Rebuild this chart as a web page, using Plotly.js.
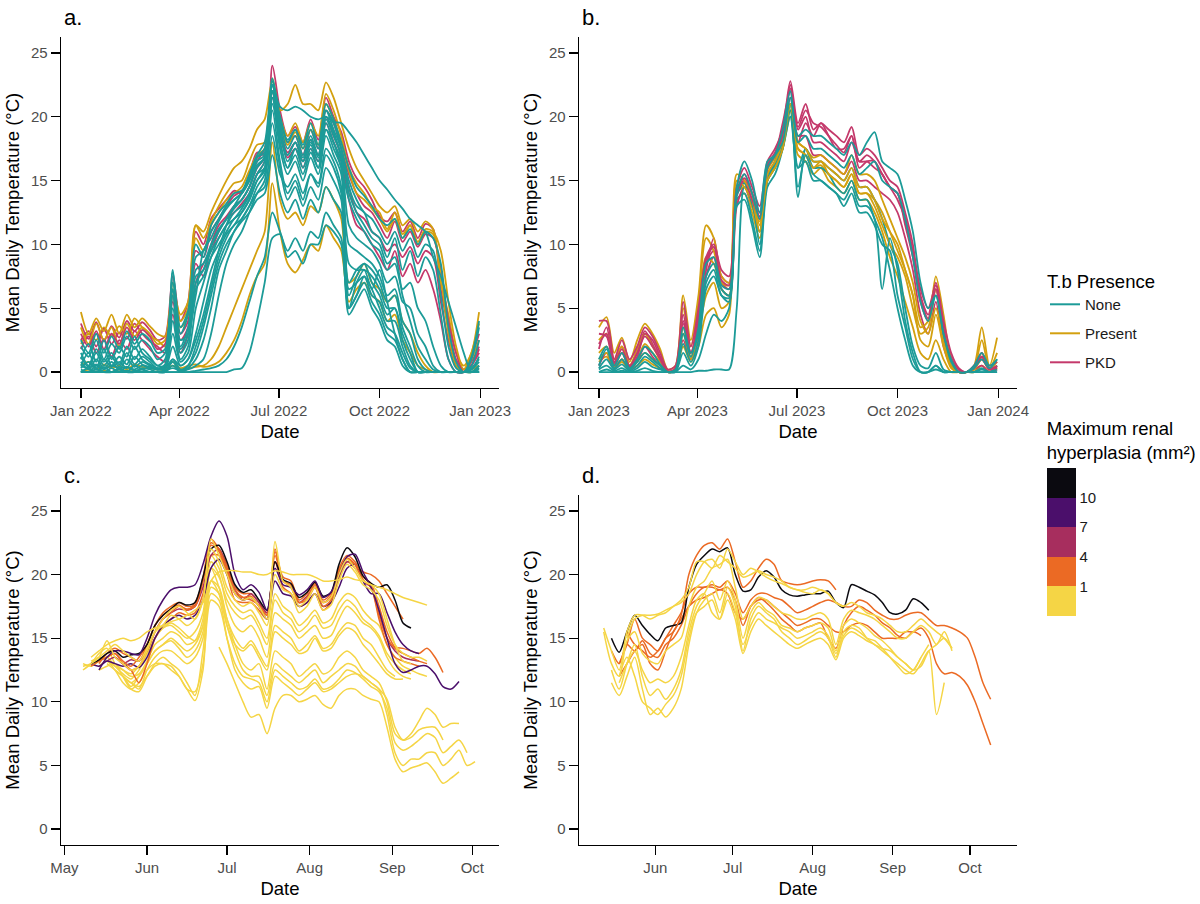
<!DOCTYPE html>
<html><head><meta charset="utf-8">
<script src="https://cdn.plot.ly/plotly-3.0.1.min.js"></script>
<style>html,body{margin:0;padding:0;background:#fff}#chart{width:1200px;height:904px}</style>
</head><body><div id="chart"></div>
<script>
// ---------- Panel a: 2022, weekly mean daily temperature from 2022-01-01 ----------
const aStart = '2022-01-01';
const a_PKD_1 = [3.8,2.6,3.9,2.4,3.6,2.7,4.0,3.2,3.9,3.3,2.5,2.8,7.5, 4.0,5.5,11.0,10.0,12.0,12.8,13.5,14.2,14.0,15.5,17.2,17.0,24.0, 20.5,18.5,19.2,18.0,19.8,18.2,21.5,20.0,18.8,16.5,15.2,14.5,13.5, 12.2,11.8,12.5,11.0,11.8,10.5,11.6,11.2,6.5,3.5,1.0,0.2,1.2,3.0];
const a_PKD_2 = [2.5,3.2,2.0,3.4,2.2,3.1,2.6,3.8,3.0,2.4,2.0,1.5,6.0, 3.0,4.0,9.5,9.0,11.0,12.0,13.0,13.8,14.2,15.0,16.5,17.5,22.5, 19.8,18.0,18.5,17.0,19.0,17.5,20.5,19.5,17.5,15.5,14.0,13.0,12.5, 11.5,10.5,11.8,10.2,11.0,9.8,10.8,10.5,8.0,4.0,1.5,0.0,0.8,2.0];
const a_PKD_3 = [1.8,2.8,1.5,2.6,1.2,2.5,1.8,3.2,2.5,1.8,1.2,0.8,4.5, 1.5,3.0,8.5,7.5,10.0,11.5,12.2,13.0,13.5,14.5,16.0,16.8,21.5, 19.0,17.2,18.0,16.5,18.2,17.0,20.0,18.5,17.0,14.5,12.5,12.0,11.0, 10.5,9.5,10.0,9.0,9.8,8.5,9.5,9.0,5.5,2.5,0.5,0.0,0.5,1.5];
const a_PKD_4 = [3.0,2.0,3.2,1.8,3.0,2.2,3.5,2.5,3.3,2.8,1.8,2.2,5.5, 2.5,3.5,7.0,8.5,9.5,11.0,12.0,12.5,13.2,14.0,15.5,16.5,22.0, 18.5,16.8,17.5,16.0,17.5,16.5,19.5,18.0,16.5,13.5,11.5,11.0,10.0, 9.0,8.0,9.5,7.5,8.5,7.0,8.0,6.5,4.0,1.0,0.0,0.0,0.5,1.8];
const a_Present_1 = [2.2,3.0,2.5,3.5,2.8,3.6,3.0,4.2,3.5,2.8,2.5,2.0,6.5, 4.5,5.5,11.5,11.0,12.5,13.8,15.0,16.0,16.5,17.5,19.0,19.8,22.8, 20.5,21.0,22.5,21.0,21.0,20.5,22.7,21.5,19.5,17.5,16.0,15.0,14.0, 13.0,12.5,13.0,11.5,12.0,11.0,11.8,11.2,7.0,4.5,1.5,0.5,1.5,4.7];
const a_Present_2 = [0.5,0.8,0.2,0.6,0.3,0.5,0.2,0.6,0.4,0.3,0.2,0.4,0.8, 0.3,0.5,0.6,0.4,0.5,0.8,1.5,2.5,4.0,6.0,7.5,8.5,14.8, 11.0,8.5,7.8,8.8,10.0,9.5,11.5,10.5,9.5,5.5,6.5,7.0,6.0, 5.5,4.0,4.5,2.5,1.5,0.5,0.2,0.0,0.0,0.0,0.0,0.0,0.2,0.5];
const a_Present_3 = [3.5,2.2,3.8,2.5,3.5,2.0,3.8,2.8,3.5,3.0,2.2,2.5,6.0, 3.5,4.5,10.5,9.5,11.5,12.5,13.5,14.0,14.5,15.8,17.0,17.5,22.0, 19.5,17.8,18.8,17.5,19.0,17.8,21.0,19.8,18.0,15.8,14.0,13.5,12.8, 12.0,11.0,12.0,10.5,11.5,10.0,11.0,10.8,7.5,3.0,0.5,0.0,1.0,2.5];
const a_Present_4 = [0.0,0.2,0.0,0.1,0.0,0.2,0.0,0.1,0.0,0.0,0.0,0.2,0.5, 0.2,0.3,0.4,0.5,1.0,2.0,3.5,5.0,6.5,8.0,9.5,11.0,18.0, 13.5,12.0,12.5,11.5,13.0,12.5,14.5,13.5,12.0,7.0,7.5,8.5,7.0, 6.5,5.5,6.0,4.0,3.0,1.5,0.5,0.0,0.0,0.0,0.0,0.0,0.0,0.3];
const a_Present_5 = [4.7,3.0,4.2,3.2,4.5,3.0,4.5,3.5,4.2,3.6,3.0,2.8,7.0, 4.0,5.0,11.5,10.5,11.8,13.0,14.0,14.8,15.0,16.5,17.8,18.0,23.0, 20.0,18.5,19.5,18.0,19.5,18.5,21.8,20.5,18.5,16.0,14.8,14.0,13.0, 12.5,11.2,12.5,10.8,11.5,10.2,11.2,11.0,9.5,5.5,2.0,0.2,1.5,3.8];
const a_None_1 = [0.5,0.3,0.6,0.2,0.5,0.3,0.4,0.2,0.5,0.3,0.2,0.3,1.0, 0.5,1.0,2.5,4.5,7.0,9.5,11.5,13.0,14.0,15.5,17.0,18.0,22.5, 20.8,20.5,20.8,20.5,20.0,19.8,20.0,19.6,19.5,18.8,18.0,17.0,16.0, 15.0,14.3,13.5,12.8,12.0,11.5,11.0,9.0,7.5,5.5,3.5,1.5,0.0,0.5];
const a_None_2 = [1.5,0.5,1.8,0.8,1.5,0.6,2.0,1.0,1.8,1.2,0.5,1.0,8.0, 2.0,3.5,7.5,8.0,9.5,10.5,11.5,12.5,13.0,14.0,15.5,16.5,22.8, 19.0,16.5,17.5,16.0,17.5,16.0,19.0,18.0,16.0,13.5,12.0,11.0,10.0, 9.5,8.0,8.5,6.5,7.0,5.0,4.0,2.0,0.5,0.0,0.0,0.0,0.3,1.0];
const a_None_3 = [0.2,0.0,0.5,0.0,0.3,0.0,0.4,0.1,0.3,0.2,0.0,0.2,2.0, 0.5,1.0,3.0,5.5,8.0,9.5,10.8,11.5,12.5,13.5,15.0,15.8,21.5, 17.5,15.5,16.5,15.0,16.8,15.5,18.5,17.0,15.5,6.0,7.5,8.5,7.0, 6.0,4.5,5.0,2.5,1.0,0.0,0.0,0.0,0.0,0.0,0.0,0.0,0.0,0.2];
const a_None_4 = [0.0,0.0,0.0,0.0,0.0,0.0,0.1,0.0,0.0,0.0,0.0,0.1,0.3, 0.1,0.2,0.5,1.0,3.0,6.0,8.5,10.0,11.0,12.5,14.0,15.0,20.5, 16.5,14.0,15.0,13.5,15.5,14.5,17.0,16.0,14.0,5.0,6.0,7.5,6.5, 5.0,3.5,3.0,1.5,0.3,0.0,0.0,0.0,0.0,0.0,0.0,0.0,0.0,0.0];
const a_None_5 = [0.0,0.0,0.0,0.0,0.0,0.0,0.0,0.0,0.0,0.0,0.0,0.0,0.0, 0.0,0.0,0.1,0.2,0.3,0.5,1.0,2.0,3.5,5.5,7.5,9.0,12.5, 11.0,9.5,10.5,9.5,11.0,10.5,12.5,11.5,10.5,4.5,5.5,6.5,5.0, 4.0,2.5,2.0,0.5,0.0,0.0,0.0,0.0,0.0,0.0,0.0,0.0,0.0,0.0];
const a_None_6 = [0.0,0.0,0.0,0.0,0.0,0.0,0.0,0.0,0.0,0.0,0.0,0.0,0.0, 0.0,0.0,0.0,0.0,0.0,0.0,0.0,0.2,0.3,1.5,4.0,7.0,10.5, 10.8,9.0,9.5,8.5,10.0,10.0,11.5,11.0,10.0,5.0,6.0,7.0,5.5, 4.5,3.0,2.5,1.0,0.0,0.0,0.0,0.0,0.0,0.0,0.0,0.0,0.0,0.0];
const a_None_7 = [1.0,2.2,0.8,2.5,1.0,2.0,1.2,2.8,1.5,1.0,0.5,0.5,6.5, 2.5,3.0,6.0,9.5,10.5,11.8,12.8,13.5,14.0,15.0,16.8,17.5,22.0, 20.0,18.0,19.0,17.5,19.0,17.5,20.5,19.5,17.5,14.5,13.0,12.5,11.0, 10.5,9.0,10.5,8.0,9.5,7.5,9.0,8.0,4.5,1.0,0.0,0.0,0.5,2.5];
const a_None_8 = [0.3,0.8,0.2,1.0,0.4,0.8,0.3,1.2,0.6,0.4,0.2,0.3,3.0, 0.8,1.5,5.0,7.0,9.0,10.5,11.5,12.0,12.8,13.8,15.5,16.0,21.0, 18.0,16.0,17.0,15.5,17.2,16.0,19.0,17.5,16.0,10.0,9.5,9.0,8.5, 7.5,6.0,6.5,4.0,3.0,1.0,0.2,0.0,0.0,0.0,0.0,0.0,0.2,0.8];
const a_None_9 = [0.0,0.0,0.0,0.0,0.0,0.0,0.0,0.0,0.0,0.0,0.0,0.0,0.5, 0.0,0.3,1.0,2.5,5.0,8.0,9.5,11.0,12.0,13.0,14.5,15.5,19.5, 16.0,13.5,14.5,13.0,14.5,13.5,16.0,15.0,13.5,7.0,8.0,8.5,8.0, 7.0,5.5,6.0,3.5,2.0,0.5,0.0,0.0,0.0,0.0,0.0,0.0,0.0,0.0];
const a_None_10 = [0.8,0.2,1.0,0.3,0.8,0.2,1.0,0.4,0.8,0.5,0.2,0.4,4.0, 1.0,2.0,6.5,7.5,9.0,10.0,11.0,12.0,12.5,13.5,15.0,16.0,22.0, 18.5,17.0,18.0,16.5,18.0,17.0,20.0,18.8,16.8,11.5,10.5,10.0,9.5, 8.5,7.0,7.5,5.5,5.0,3.0,2.0,0.5,0.0,0.0,0.0,0.0,0.0,0.5];
const a_None_11 = [2.0,1.2,2.5,1.0,2.2,1.5,2.8,1.8,2.5,2.0,1.0,1.5,7.0, 3.0,4.5,9.0,9.5,11.0,12.0,13.0,13.5,14.0,15.0,16.5,17.0,22.5, 19.5,17.5,18.5,17.0,18.5,17.0,20.5,19.0,17.5,15.0,13.5,12.5,12.0, 11.0,10.0,11.0,9.5,10.5,9.0,10.0,9.5,6.0,2.0,0.3,0.0,1.0,3.5];
const a_None_12 = [0.0,0.3,0.0,0.4,0.0,0.2,0.0,0.5,0.2,0.0,0.0,0.0,1.0, 0.2,0.5,2.0,4.0,6.5,9.0,10.5,11.5,12.0,13.0,14.0,14.5,18.5, 15.5,14.5,15.5,14.0,15.5,14.8,17.5,16.5,14.5,8.5,8.0,8.0,7.5, 6.5,5.0,5.0,3.0,1.5,0.0,0.0,0.0,0.0,0.0,0.0,0.0,0.0,0.0];
const a_None_13 = [0.5,1.5,0.3,1.8,0.5,1.2,0.6,2.0,1.0,0.6,0.3,0.4,5.0, 1.5,2.5,7.0,8.0,9.8,11.0,12.0,12.8,13.5,14.5,16.0,16.8,22.0, 18.0,16.0,17.5,16.5,17.8,16.5,19.5,18.0,16.5,5.0,7.0,8.0,6.5, 8.0,5.5,3.0,1.0,0.0,0.0,0.0,0.0,0.0,0.0,0.0,0.0,0.0,0.3];
const a_None_14 = [0.0,0.0,0.2,0.0,0.0,0.3,0.0,0.0,0.2,0.0,0.0,0.0,0.8, 0.0,0.5,1.5,3.5,6.0,8.5,10.0,11.0,11.8,12.5,13.5,14.0,17.0, 14.0,12.5,13.5,12.0,13.5,12.5,14.5,13.5,12.5,6.5,7.0,7.5,6.0, 5.5,4.0,4.0,2.0,0.5,0.0,0.0,0.0,0.0,0.0,0.0,0.0,0.0,0.0];
const a_None_15 = [2.5,1.5,3.0,1.5,2.8,1.8,3.2,2.2,3.0,2.5,1.5,1.8,7.8, 3.5,4.8,10.0,9.0,11.5,12.5,13.2,14.0,14.2,15.2,16.8,17.2,23.0, 20.0,18.2,19.0,17.8,19.5,17.8,21.0,19.8,18.0,16.0,14.5,13.8,13.0, 12.0,11.5,12.0,10.5,11.2,10.0,11.0,10.5,8.5,3.5,0.8,0.0,1.2,4.0];
const a_None_16 = [1.2,0.4,1.5,0.5,1.2,0.4,1.5,0.6,1.2,0.8,0.3,0.6,6.0, 1.8,3.0,8.0,8.5,10.0,11.2,12.0,13.0,13.5,14.5,16.2,16.8,22.5, 19.0,17.0,18.0,16.8,18.2,16.8,19.8,18.5,17.0,14.0,12.5,11.5,10.5, 10.0,8.5,9.0,6.0,4.0,2.0,1.0,0.2,0.0,0.0,0.0,0.0,0.2,1.2];

// ---------- Panel b: 2023, weekly from 2023-01-01 ----------
const bStart = '2023-01-01';
const b_PKD_1 = [4.0,4.0,1.0,2.5,1.0,2.0,3.5,2.8,1.5,0.2,0.5,5.5,2.0, 5.0,9.0,10.0,8.0,7.5,14.5,16.0,14.5,13.0,16.5,17.5,19.0,22.8, 19.5,21.0,19.0,19.5,19.0,18.5,18.0,19.2,17.0,17.5,17.0,16.0,15.0, 14.5,12.5,10.0,6.0,4.5,7.0,4.0,1.5,0.3,0.0,0.5,1.5,0.3,0.5];
const b_PKD_2 = [1.8,3.5,0.8,2.0,0.5,1.5,3.2,2.2,1.0,0.0,0.3,4.0,1.5, 4.0,8.5,9.5,7.0,6.5,14.0,15.5,14.0,12.5,16.0,17.0,18.5,22.5, 19.0,20.0,18.0,18.0,17.5,17.0,16.5,18.0,16.5,16.5,16.0,15.5,14.5, 14.0,11.5,9.0,5.5,4.0,6.5,3.0,1.0,0.0,0.0,0.3,1.0,0.2,0.3];
const b_PKD_3 = [0.5,1.5,0.3,1.0,0.2,0.8,2.0,1.2,0.5,0.0,0.1,2.5,1.0, 3.0,7.5,9.0,6.5,6.0,13.0,14.5,13.0,12.0,15.5,16.5,18.0,21.5, 18.5,18.5,17.0,17.0,16.5,16.0,15.5,16.5,15.0,15.0,14.5,14.0,13.5, 12.5,10.5,8.0,4.5,3.0,5.5,2.0,0.5,0.0,0.0,0.2,0.5,0.0,0.2];
const b_PKD_4 = [3.0,2.8,0.5,1.5,0.4,1.2,3.0,2.5,1.2,0.1,0.2,4.5,1.5, 3.5,8.0,10.5,7.5,7.0,14.0,15.0,13.5,12.0,16.0,17.0,19.5,22.0, 18.0,19.5,18.5,19.5,18.5,17.5,17.5,18.5,16.0,16.5,16.5,15.5,14.5, 13.5,12.0,9.5,6.5,5.0,6.8,3.5,1.2,0.2,0.0,0.5,1.2,0.5,0.8];
const b_PKD_5 = [2.2,3.0,0.7,1.8,0.5,1.5,2.8,2.0,1.0,0.0,0.3,3.8,1.5, 4.5,8.8,9.8,7.2,6.8,14.2,15.2,14.0,12.2,16.2,17.2,18.8,22.2, 19.2,20.5,19.5,19.2,18.5,17.8,17.2,18.5,16.5,17.0,16.5,15.5,14.5, 14.0,12.0,9.2,5.8,4.2,6.5,3.2,1.0,0.0,0.0,0.3,1.2,0.2,0.4];
const b_Present_1 = [3.5,4.3,1.5,2.7,0.8,2.5,3.8,3.0,1.8,0.2,0.5,6.0,2.5, 6.0,11.5,10.5,7.5,7.0,15.5,15.0,14.0,11.5,15.0,16.0,17.5,21.0, 18.0,17.5,16.5,16.5,16.0,15.5,15.0,16.0,14.5,14.5,13.5,12.0,11.0, 10.0,8.0,6.0,3.5,4.0,7.5,4.5,1.0,0.0,0.0,0.5,3.5,0.5,2.7];
const b_Present_2 = [2.5,3.0,1.0,2.0,0.5,1.8,3.0,2.0,1.0,0.0,0.3,5.0,2.0, 5.5,10.5,9.5,7.0,6.8,15.0,14.5,13.5,11.0,15.5,16.5,18.0,20.5, 17.5,17.0,16.0,16.5,15.5,15.0,14.5,15.5,14.0,14.0,13.0,11.5,10.0, 9.0,7.5,5.0,3.0,3.5,6.5,3.5,0.5,0.0,0.0,0.3,2.5,0.3,1.5];
const b_Present_3 = [0.8,1.2,0.3,0.8,0.2,0.5,1.0,0.6,0.3,0.0,0.1,2.0,0.8, 2.0,4.5,5.0,3.5,4.5,13.5,14.0,12.5,10.5,15.0,16.0,17.5,20.0, 17.0,16.5,15.5,16.0,15.0,14.5,14.0,15.0,13.5,13.5,12.5,11.0,9.0, 7.5,5.5,3.5,1.5,1.0,2.5,1.0,0.0,0.0,0.0,0.0,0.5,0.0,0.3];
const b_Present_4 = [1.5,2.0,0.6,1.5,0.4,1.0,2.2,1.5,0.8,0.0,0.2,3.5,1.2, 4.0,9.0,8.5,6.5,6.0,14.5,14.8,13.0,11.8,15.8,16.8,18.2,21.0, 18.0,17.5,16.8,17.0,16.5,16.0,15.5,17.0,15.5,15.5,15.0,13.5,12.0, 10.5,9.0,7.0,4.0,3.0,5.0,2.5,0.5,0.0,0.0,0.2,1.5,0.2,0.8];
const b_Present_5 = [1.0,1.5,0.4,1.0,0.3,0.8,1.5,1.0,0.5,0.0,0.1,3.0,1.0, 3.0,6.0,7.0,5.0,5.5,14.0,14.5,13.0,11.0,15.2,16.2,17.8,20.5, 17.5,17.0,16.0,16.2,15.5,15.0,14.5,15.5,14.0,14.0,13.5,12.5,11.0, 9.5,8.0,6.0,2.5,2.0,4.5,2.0,0.3,0.0,0.0,0.2,1.0,0.2,0.5];
const b_None_1 = [0.0,0.0,0.0,0.0,0.0,0.0,0.0,0.0,0.0,0.0,0.0,0.0,0.0, 0.1,0.1,0.2,0.2,0.2,5.0,14.5,13.5,10.0,15.0,16.5,18.0,21.0, 13.7,17.5,16.0,16.0,15.5,14.5,14.0,15.0,13.5,13.5,12.0,10.5,8.0, 5.0,2.5,0.5,0.0,0.0,0.5,0.0,0.0,0.0,0.0,0.0,0.2,0.0,0.0];
const b_None_2 = [0.5,1.8,0.3,1.0,0.2,0.8,1.5,1.0,0.5,0.0,0.1,3.0,1.2, 3.5,8.5,9.0,6.8,6.5,14.5,16.5,15.0,12.5,16.5,17.0,18.0,21.5, 18.5,19.0,18.5,18.5,18.0,17.5,17.0,18.0,17.0,18.0,18.8,16.5,16.0, 15.5,13.5,11.0,7.0,5.0,6.0,3.0,0.8,0.0,0.0,0.3,1.0,0.3,1.0];
const b_None_3 = [0.2,0.5,0.1,0.3,0.0,0.3,0.8,0.4,0.2,0.0,0.0,1.5,0.5, 2.0,6.5,7.5,6.0,5.5,13.0,13.5,11.5,9.0,14.5,15.5,17.5,20.5, 14.5,17.0,15.5,15.0,14.5,14.0,13.5,14.5,13.0,13.0,12.0,6.5,10.5, 8.0,4.0,1.5,0.0,0.0,0.5,0.0,0.0,0.0,0.0,0.0,0.0,0.0,0.2];
const b_None_4 = [0.0,0.2,0.0,0.1,0.0,0.1,0.3,0.1,0.0,0.0,0.0,0.5,0.2, 1.0,3.0,4.5,4.0,5.0,13.5,14.0,12.0,9.5,15.0,16.0,17.5,20.0, 16.0,16.5,15.0,15.0,14.5,14.0,13.0,14.0,12.5,12.5,11.5,10.0,9.5, 6.0,3.5,1.0,0.0,0.0,0.2,0.0,0.0,0.0,0.0,0.0,0.0,0.0,0.0];
const b_None_5 = [1.0,2.0,0.5,1.5,0.3,1.0,2.0,1.5,0.6,0.0,0.2,3.5,1.5, 3.0,7.5,8.5,6.5,6.0,14.0,15.5,14.0,12.0,16.0,17.0,19.0,22.0, 18.0,18.5,17.5,17.5,17.0,16.5,16.0,17.0,15.5,16.0,16.5,15.0,14.5, 14.0,12.0,9.0,5.5,4.0,6.0,3.0,1.0,0.0,0.0,0.5,1.5,0.5,1.0];
const b_None_6 = [0.3,1.0,0.2,0.6,0.1,0.5,1.2,0.8,0.3,0.0,0.1,2.2,0.8, 2.5,7.0,8.0,6.0,5.8,13.8,14.8,13.2,11.0,15.5,16.2,17.8,21.0, 16.0,17.5,16.5,16.5,16.0,15.5,15.0,16.0,14.5,14.5,13.5,12.0,10.0, 8.5,5.0,2.0,0.5,0.3,1.5,0.2,0.0,0.0,0.0,0.0,0.3,0.0,0.5];

// ---------- Panel c: 2022, every 3 days; start date, max renal hyperplasia (mm²), values ----------
const c_K1_start = '2022-05-11', c_K1_hyp = 11;
const c_K1 = [13.0,13.3,13.8,14.0,13.5,13.7,13.8,14.5,16.0,16.8,17.3,17.8,17.6,17.8,19.8,22.0,22.3,21.0,19.2,18.6,18.8,18.0,17.2,21.0,19.6,19.3,18.2,18.6,19.4,18.3,18.6,20.8,22.1,21.4,19.9,19.3,19.0,19.2,18.0,16.2,15.8];
const c_P1_start = '2022-05-14', c_P1_hyp = 8.5;
const c_P1 = [12.5,13.5,14.0,14.0,13.8,13.7,15.0,16.8,18.0,18.8,19.0,19.0,19.2,20.8,23.0,24.2,23.0,20.0,18.8,19.2,18.6,17.2,20.5,19.2,19.0,18.4,18.8,19.5,18.2,18.6,20.0,21.4,21.6,20.2,19.0,17.2,15.0,13.0,12.3,12.5,12.8,12.8,12.2,11.2,11.0,11.6];
const c_P2_start = '2022-05-11', c_P2_hyp = 7.5;
const c_P2 = [13.0,12.8,13.2,13.0,12.8,13.0,12.7,13.5,15.0,16.0,16.5,16.8,16.5,16.8,18.0,20.5,21.2,20.0,18.5,18.0,18.2,17.5,16.5,19.5,18.5,18.3,17.5,17.8,18.5,17.5,17.8,19.0,20.5,20.8,19.5,18.5,18.5,17.0,15.5,14.5,14.0,13.8];
const c_M1_start = '2022-05-17', c_M1_hyp = 5;
const c_M1 = [13.2,13.5,13.0,13.3,13.2,14.0,15.5,16.5,17.0,17.3,17.2,17.5,19.0,21.5,22.0,20.5,18.8,18.0,18.5,17.8,17.0,21.0,19.5,19.0,17.8,18.3,19.0,17.8,18.2,19.8,21.0,20.8,19.5,19.0,17.0,15.0,14.0,13.5,13.3,13.2];
const c_O1_start = '2022-05-14', c_O1_hyp = 2.5;
const c_O1 = [13.0,13.8,14.2,13.8,13.5,13.2,14.5,16.0,17.0,17.5,17.8,17.5,17.6,19.8,22.5,22.0,20.8,19.0,18.5,18.5,17.8,17.0,21.8,19.8,19.5,18.0,18.5,19.3,18.0,18.5,20.5,21.5,21.0,19.8,19.3,17.5,15.5,14.3,14.2,14.0,13.8,14.2,13.5,12.3];
const c_O2_start = '2022-05-11', c_O2_hyp = 2;
const c_O2 = [12.8,13.2,13.5,13.8,13.0,12.5,12.8,14.0,15.5,16.5,17.0,17.5,17.3,17.5,19.5,22.8,22.0,20.5,18.8,18.2,18.0,17.6,16.8,22.0,19.5,19.0,17.8,18.0,19.0,17.5,18.0,20.3,21.2,20.8,20.2,20.0,19.5,18.5,17.5,16.5];
const c_O3_start = '2022-05-20', c_O3_hyp = 3;
const c_O3 = [13.5,13.0,12.5,11.5,13.0,15.0,16.0,16.5,17.0,16.8,17.0,18.5,21.5,21.5,20.0,18.0,17.8,17.8,17.2,16.5,21.0,19.0,18.5,17.5,17.8,18.5,17.2,17.8,19.8,21.0,20.5,19.5,19.0,16.5,14.5,13.5,13.2,13.0,12.8];
const c_O4_start = '2022-05-17', c_O4_hyp = 1.5;
const c_O4 = [13.5,13.8,13.2,12.8,13.5,14.5,16.0,16.8,17.3,17.6,17.2,17.8,19.5,22.3,21.8,20.2,18.5,18.2,18.3,17.5,16.8,21.5,19.5,19.2,17.8,18.2,19.2,17.8,18.3,20.2,21.3,20.8,19.6,19.0,16.8,15.0,14.2,13.8,13.5,13.2,13.0];
const c_Y1_start = '2022-05-08';
const c_Y1 = [12.8,13.0,13.5,14.8,13.5,13.0,12.5,12.8,14.0,15.5,16.0,16.8,16.5,16.0,16.5,18.0,22.8,21.5,20.0,18.5,18.0,18.2,17.5,16.5,22.6,19.5,19.0,17.5,18.0,19.0,17.8,18.2,20.0,21.2,20.5,19.5,19.2,18.5,16.5,14.5,13.2,13.0];
const c_Y2_start = '2022-05-11';
const c_Y2 = [13.5,14.0,14.5,14.8,15.0,14.8,15.0,15.5,15.8,16.0,16.3,16.5,16.8,17.2,17.8,19.5,20.2,20.3,20.3,20.2,20.2,20.0,20.0,20.3,20.2,20.0,20.0,20.0,19.8,19.5,19.5,19.6,19.8,19.6,19.5,19.2,19.0,18.8,18.5,18.2,18.0,17.8,17.6];
const c_Y3_start = '2022-05-08';
const c_Y3 = [12.5,13.0,13.8,14.2,13.0,12.5,12.0,12.2,13.2,14.5,15.0,15.5,15.2,14.5,14.8,16.5,21.0,20.0,17.5,16.0,15.5,16.0,15.0,13.5,17.0,16.5,16.0,15.0,15.5,16.0,15.0,15.2,16.5,17.5,17.0,16.2,15.8,15.0,13.5,12.5,12.0,11.8];
const c_Y4_start = '2022-05-14';
const c_Y4 = [12.8,13.2,12.5,11.5,11.0,11.5,12.5,13.0,13.0,12.8,12.0,11.0,10.1,12.5,19.5,18.5,16.0,14.5,14.0,14.5,13.5,12.5,15.5,15.0,14.5,13.8,14.0,15.0,14.0,14.2,15.2,15.8,15.5,14.5,13.8,13.0,12.2,11.8,11.8];
const c_Y5_start = '2022-05-17';
const c_Y5 = [13.0,12.5,12.0,11.2,12.0,13.0,14.0,14.5,14.8,14.2,13.5,14.0,15.5,19.5,19.0,16.5,14.5,13.0,12.5,13.0,11.0,14.0,13.5,13.0,12.0,12.5,13.0,12.2,12.5,13.5,14.0,13.5,12.5,12.0,11.5,10.0,7.5,7.0,7.5,8.5,9.5,9.0,8.0,8.3,8.3];
const c_Y6_start = '2022-05-20';
const c_Y6 = [12.5,12.0,11.5,11.0,12.5,13.5,14.0,14.0,13.5,13.0,13.5,15.0,19.0,18.5,16.0,14.0,12.5,12.0,12.0,10.5,13.0,12.5,12.0,11.5,12.0,12.5,11.5,12.0,12.5,13.0,12.8,12.0,11.5,11.0,9.0,6.0,5.0,5.5,5.5,6.0,6.0,5.0,5.5,6.2,5.0,5.3];
const c_Y7_start = '2022-06-28';
const c_Y7 = [14.3,13.0,11.5,10.0,8.8,9.0,7.5,9.5,10.5,10.5,10.0,10.2,10.5,9.8,9.5,10.5,11.0,11.0,10.5,10.2,10.0,8.0,5.5,4.5,4.8,5.0,5.2,4.5,3.6,4.0,4.5];
const c_Y9_start = '2022-05-23';
const c_Y9 = [12.0,11.0,10.8,12.0,13.0,13.5,13.0,12.5,11.5,10.5,14.0,18.5,18.0,15.0,12.5,11.5,11.0,11.2,9.5,12.0,11.5,11.0,10.5,11.0,11.5,10.8,11.0,11.5,12.0,12.2,12.0,11.5,11.0,10.2,8.0,7.0,7.2,7.8,8.0,8.0,7.0];
const c_Y10_start = '2022-05-26';
const c_Y10 = [11.5,11.2,12.0,12.8,13.0,12.5,12.0,11.0,10.8,13.0,18.0,17.5,15.0,13.0,12.0,11.8,11.5,10.0,12.5,12.0,11.5,11.0,11.2,11.8,11.0,11.2,11.8,12.5,12.3,11.8,11.2,10.8,9.5,6.8,6.2,6.5,7.0,7.5,7.2,6.0,6.5,7.0,6.0];
const c_Y11_start = '2022-05-08';
const c_Y11 = [13.0,12.8,13.2,13.5,12.8,12.2,11.8,12.5,13.8,15.0,15.8,16.0,15.5,15.0,15.5,17.0,21.5,20.5,18.5,17.5,17.0,17.2,16.2,15.0,18.5,17.5,17.0,16.0,16.5,17.2,16.2,16.5,17.8,18.5,18.2,17.2,16.5,16.0,14.5,13.5,12.8,12.5,12.2,12.0];
const c_Y12_start = '2022-05-11';
const c_Y12 = [13.2,13.5,14.0,14.5,14.0,13.5,13.2,14.2,15.5,16.5,17.2,17.5,17.0,16.5,18.0,22.0,21.0,19.0,18.0,17.5,17.8,17.0,16.0,20.0,18.8,18.5,17.0,17.5,18.5,17.2,17.6,19.5,20.8,20.2,19.2,18.8,18.0,16.0,14.5,13.8,13.5,13.5,13.2];
const c_Y13_start = '2022-05-14';
const c_Y13 = [12.5,12.8,13.0,12.0,11.5,12.0,13.0,14.0,14.5,15.0,14.5,14.0,14.5,16.0,20.5,19.0,16.5,15.0,14.2,14.8,13.8,12.8,16.0,15.5,15.0,14.0,14.5,15.2,14.2,14.5,15.5,16.2,16.0,15.0,14.5,13.5,12.5,12.0];
const c_Y14_start = '2022-05-11';
const c_Y14 = [13.0,13.5,13.2,12.8,12.5,12.2,12.8,13.8,15.0,15.8,16.2,15.8,15.2,14.8,16.0,20.5,19.8,18.0,17.0,16.5,16.8,15.8,14.5,18.0,17.0,16.5,15.5,16.0,16.8,15.8,16.0,17.2,18.0,17.5,16.5,16.0,15.2,13.8,13.0,12.5,12.2];
const cYellowHyp = 0.3;

// ---------- Panel d: 2023, every 3 days ----------
const d_K1_start = '2023-05-15', d_K1_hyp = 11;
const d_K1 = [15.0,13.9,15.5,16.8,16.0,15.3,14.8,15.8,16.0,16.2,19.0,20.8,21.5,22.0,21.8,22.1,20.0,18.7,18.8,19.8,20.3,19.8,18.8,18.4,18.3,18.4,18.5,18.5,18.7,17.8,17.4,19.2,19.0,18.7,18.4,17.8,17.0,16.9,17.2,18.1,17.8,17.2];
const d_O1_start = '2023-05-18', d_O1_hyp = 2.5;
const d_O1 = [13.0,14.5,16.5,15.0,14.5,14.0,15.0,15.5,16.8,20.0,21.5,22.3,22.5,22.0,22.8,21.0,19.0,19.5,20.5,21.2,20.8,19.5,19.3,19.2,19.3,19.5,19.6,19.5,18.8];
const d_O2_start = '2023-05-21', d_O2_hyp = 2;
const d_O2 = [15.5,14.5,14.0,13.5,14.0,15.0,16.0,17.0,18.5,19.0,19.0,19.2,19.0,19.5,18.5,17.0,18.0,18.5,18.5,18.2,18.0,17.5,17.0,17.2,17.5,17.8,18.0,17.8,17.5,17.5,18.0,17.8,17.2,16.8,16.5,16.5,16.8,17.0,17.0,16.5,16.0,16.0,15.8,15.5,15.0,13.5,11.5,10.2];
const d_O3_start = '2023-05-18', d_O3_hyp = 3;
const d_O3 = [12.0,13.0,14.0,14.5,13.0,12.5,14.0,15.5,16.5,17.5,18.0,18.2,18.5,18.8,18.5,17.0,16.5,17.5,18.0,18.0,17.5,17.0,16.5,16.0,16.2,16.5,16.5,16.0,15.5,15.5,16.0,16.2,16.0,15.5,15.0,15.0,15.0,15.5,15.5,15.8,15.0,13.0,12.2,12.3,12.0,11.3,10.0,8.3,6.6];
const d_O4_start = '2023-05-15', d_O4_hyp = 1.5;
const d_O4 = [14.0,13.0,14.5,14.0,14.8,13.8,13.5,14.5,15.0,16.0,17.5,18.5,19.0,19.0,18.8,19.0,18.0,16.0,17.5,18.2,17.8,17.2,16.5,16.0,15.5,15.8,16.0,16.2,15.0,14.2,16.0,17.0,17.5,17.2,16.8,16.2,15.8,15.2,15.0,15.5,15.2];
const d_Y1_start = '2023-05-12';
const d_Y1 = [15.8,14.0,12.5,15.5,16.8,16.8,16.5,16.8,17.0,17.5,18.0,19.0,21.0,21.0,20.5,21.5,21.0,20.5,19.8,20.0,20.3,20.0,19.8,19.5,19.0,18.8,18.8,19.0,18.8,18.5,17.8,17.5,17.8,17.5,17.0,16.8,16.5,16.0,15.5,15.5,16.0,16.5,16.0,15.5,15.0,14.2];
const d_Y2_start = '2023-05-15';
const d_Y2 = [11.5,10.5,12.0,13.5,11.0,9.0,9.5,8.8,9.5,11.0,14.5,17.0,18.0,18.5,17.0,19.0,17.5,14.0,16.5,17.5,17.0,16.5,15.5,15.0,14.5,14.8,15.2,15.5,15.0,13.5,15.5,16.0,15.8,15.0,14.5,14.0,13.5,13.0,12.5,12.2,13.0,14.0,9.0,11.5];
const d_Y3_start = '2023-05-15';
const d_Y3 = [12.5,11.0,13.0,14.5,12.0,10.5,11.0,10.2,11.0,12.5,15.5,17.5,18.5,19.5,18.0,19.5,18.0,15.0,17.0,17.8,17.2,16.8,16.0,15.8,15.5,15.8,16.0,16.2,15.8,14.0,16.0,16.5,16.2,15.8,15.2,14.8,14.2,13.5,13.0,12.5,13.5,14.5];
const d_Y4_start = '2023-05-12';
const d_Y4 = [15.5,13.0,12.0,14.8,15.5,13.8,13.2,13.0,14.0,14.5,15.0,17.5,19.0,19.5,20.5,20.8,21.2,19.0,16.5,17.5,18.2,18.0,17.5,17.0,16.8,16.5,16.5,16.8,17.0,16.5,14.5,16.5,17.2,17.0,16.8,16.5,16.0,15.5,15.0,15.0,15.5,16.0,15.5,14.5,15.5,14.0];
const d_Y5_start = '2023-05-21';
const d_Y5 = [15.0,16.5,16.8,16.8,16.9,17.2,17.5,17.8,18.5,20.0,21.0,21.2,20.5,22.0,21.0,20.0,20.5,20.2,19.8,19.5,19.3,19.0,18.8,18.6,18.5,18.8,18.5,17.8,17.5];
const d_Y6_start = '2023-05-18';
const d_Y6 = [11.5,13.0,14.0,12.5,11.5,11.8,11.5,12.0,13.5,16.0,18.0,18.5,17.0,16.5,18.0,16.5,13.8,15.5,16.5,16.0,15.5,15.0,14.5,14.2,14.5,14.8,15.0,14.5,13.3,15.0,15.5,15.2,14.8,14.5,14.2,14.0,13.5,13.0,12.5,12.8,14.0,14.5,15.0,14.2];
const d_Y7_start = '2023-05-18';
const d_Y7 = [12.0,13.5,12.0,10.0,9.5,9.0,9.8,10.5,12.0,15.0,17.0,17.5,18.0,16.5,18.5,17.0,14.5,16.0,17.0,16.5,16.2,15.8,15.5,15.0,15.2,15.5,15.8,15.2,13.8,15.2,15.8,15.5,15.0,14.8,14.2,13.5,12.8,12.2,12.5,13.5];
const dYellowHyp = 0.3;

// ---------- legend categories / colour scales ----------
const presenceCats = ['None','Present','PKD'];
const presenceColors = {None:'#1c9b98', Present:'#d3a00f', PKD:'#c4396b'};
const hypBreaks = [1,4,7,10];
const hypColors = ['#f5d545','#eb6a24','#a72e5e','#4b0f6b','#0b0a10'];

// ---------- helpers ----------
function dateSeq(start, stepDays, n){
  const t0 = Date.parse(start + 'T00:00:00Z'); const out = [];
  for (let i = 0; i < n; i++) out.push(new Date(t0 + i*stepDays*86400000).toISOString().slice(0,10));
  return out;
}
function hypColor(v){ let k = 0; hypBreaks.forEach(b => { if (v >= b) k++; }); return hypColors[k]; }
const FONT = '"Liberation Sans", Arial, Helvetica, sans-serif';

const traces = [];
presenceCats.forEach(cat => traces.push({type:'scatter', mode:'lines', x:[null], y:[null], name:cat,
  legendgroup:cat, showlegend:true, line:{color:presenceColors[cat], width:2}, xaxis:'x', yaxis:'y', hoverinfo:'skip'}));

function addPresence(list, start, xa, ya){
  list.forEach(([cat, vals]) => traces.push({type:'scatter', mode:'lines', x:dateSeq(start,7,vals.length), y:vals,
    line:{color:presenceColors[cat], width:1.8, shape:'spline', smoothing:0.8}, legendgroup:cat, showlegend:false,
    xaxis:xa, yaxis:ya, hoverinfo:'skip'}));
}
addPresence([['Present',a_Present_2],['Present',a_Present_4],['PKD',a_PKD_1],['Present',a_Present_1],['PKD',a_PKD_2],['Present',a_Present_5],['PKD',a_PKD_3],['Present',a_Present_3],['PKD',a_PKD_4],
  ['None',a_None_1],['None',a_None_6],['None',a_None_5],['None',a_None_14],['None',a_None_9],['None',a_None_12],['None',a_None_4],['None',a_None_3],['None',a_None_13],['None',a_None_8],['None',a_None_10],['None',a_None_16],['None',a_None_2],['None',a_None_7],['None',a_None_11],['None',a_None_15]], aStart, 'x', 'y');
addPresence([['Present',b_Present_3],['None',b_None_4],['PKD',b_PKD_3],['Present',b_Present_5],['Present',b_Present_4],['None',b_None_1],['PKD',b_PKD_2],['None',b_None_6],['Present',b_Present_2],['None',b_None_3],['PKD',b_PKD_4],['Present',b_Present_1],['PKD',b_PKD_5],['PKD',b_PKD_1],['None',b_None_5],['None',b_None_2]], bStart, 'x2', 'y2');

function addHyp(list, xa, ya){
  list.forEach(([start, hyp, vals]) => traces.push({type:'scatter', mode:'lines', x:dateSeq(start,3,vals.length), y:vals,
    line:{color:hypColor(hyp), width:1.5, shape:'spline', smoothing:0.8}, showlegend:false, xaxis:xa, yaxis:ya, hoverinfo:'skip'}));
}
addHyp([[c_Y7_start,cYellowHyp,c_Y7],[c_Y6_start,cYellowHyp,c_Y6],[c_Y10_start,cYellowHyp,c_Y10],[c_Y5_start,cYellowHyp,c_Y5],[c_Y9_start,cYellowHyp,c_Y9],[c_Y4_start,cYellowHyp,c_Y4],[c_Y13_start,cYellowHyp,c_Y13],[c_Y3_start,cYellowHyp,c_Y3],[c_Y14_start,cYellowHyp,c_Y14],[c_Y11_start,cYellowHyp,c_Y11],
  [c_O3_start,c_O3_hyp,c_O3],[c_O1_start,c_O1_hyp,c_O1],[c_M1_start,c_M1_hyp,c_M1],[c_P2_start,c_P2_hyp,c_P2],[c_O4_start,c_O4_hyp,c_O4],[c_O2_start,c_O2_hyp,c_O2],[c_K1_start,c_K1_hyp,c_K1],[c_P1_start,c_P1_hyp,c_P1],
  [c_Y2_start,cYellowHyp,c_Y2],[c_Y12_start,cYellowHyp,c_Y12],[c_Y1_start,cYellowHyp,c_Y1]], 'x3', 'y3');
addHyp([[d_O3_start,d_O3_hyp,d_O3],[d_O2_start,d_O2_hyp,d_O2],[d_O4_start,d_O4_hyp,d_O4],[d_K1_start,d_K1_hyp,d_K1],[d_O1_start,d_O1_hyp,d_O1],
  [d_Y2_start,dYellowHyp,d_Y2],[d_Y7_start,dYellowHyp,d_Y7],[d_Y3_start,dYellowHyp,d_Y3],[d_Y6_start,dYellowHyp,d_Y6],[d_Y4_start,dYellowHyp,d_Y4],[d_Y1_start,dYellowHyp,d_Y1],[d_Y5_start,dYellowHyp,d_Y5]], 'x4', 'y4');

// colour bar legend for hyperplasia
const stepScale = [];
const cmin = -2, cmax = 13;
const edges = [cmin].concat(hypBreaks, [cmax]);
hypColors.forEach((c,i) => { stepScale.push([(edges[i]-cmin)/(cmax-cmin), c]); stepScale.push([(edges[i+1]-cmin)/(cmax-cmin), c]); });
traces.push({type:'scatter', mode:'markers', x:[null], y:[null], xaxis:'x4', yaxis:'y4', showlegend:false, hoverinfo:'skip',
  marker:{color:[0], cmin:cmin, cmax:cmax, colorscale:stepScale, showscale:true,
    colorbar:{x:1046.7/1200, xanchor:'left', xpad:0, y:1-418/904, yanchor:'top', ypad:0,
      len:198, lenmode:'pixels', thickness:29.3, thicknessmode:'pixels', outlinewidth:0,
      tickvals:hypBreaks, ticktext:hypBreaks.map(String), ticks:'', ticklabelpad:10,
      tickfont:{family:FONT, size:15, color:'#1a1a1a'},
      title:{text:'Maximum renal<br>hyperplasia (mm²)', side:'top', font:{family:FONT, size:18.5, color:'#000'}}}}});

const W = 1200, H = 904;
function xdom(l, r){ return [l/W, r/W]; }
function ydom(t, b){ return [1-b/H, 1-t/H]; }
const baseAxis = {showline:true, linecolor:'#000', linewidth:1.4, ticks:'outside', ticklen:9, tickwidth:1.3, tickcolor:'#000',
  showgrid:false, zeroline:false, tickfont:{family:FONT, size:15, color:'#4d4d4d'}};
function yAxis(dom, anchor){ return Object.assign({}, baseAxis, {domain:dom, anchor:anchor, range:[-1.25,26.25], tickvals:[0,5,10,15,20,25],
  title:{text:'Mean Daily Temperature (°C)', standoff:6, font:{family:FONT, size:18.5, color:'#000'}}}); }
function xAxis(dom, anchor, range, tick0, dtick, fmt){ return Object.assign({}, baseAxis, {domain:dom, anchor:anchor, type:'date', range:range,
  tick0:tick0, dtick:dtick, tickformat:fmt, title:{text:'Date', standoff:6, font:{family:FONT, size:18.5, color:'#000'}}}); }

const layout = {
  width:W, height:H, margin:{l:0, r:0, t:0, b:0}, paper_bgcolor:'#fff', plot_bgcolor:'#fff',
  font:{family:FONT, color:'#000'}, showlegend:true,
  xaxis: xAxis(xdom(61,499), 'y', ['2021-12-13 19:00','2023-01-18 05:00'], '2022-01-01', 'M3', '%b %Y'),
  yaxis: yAxis(ydom(37,388), 'x'),
  xaxis2: xAxis(xdom(579,1017), 'y2', ['2022-12-13 19:00','2024-01-18 05:00'], '2023-01-01', 'M3', '%b %Y'),
  yaxis2: yAxis(ydom(37,388), 'x2'),
  xaxis3: xAxis(xdom(61,499), 'y3', ['2022-04-29 18:00','2022-10-11 00:00'], '2022-05-01', 'M1', '%b'),
  yaxis3: yAxis(ydom(495,845), 'x3'),
  xaxis4: xAxis(xdom(579,1017), 'y4', ['2023-05-02 10:00','2023-10-19 05:00'], '2023-05-01', 'M1', '%b'),
  yaxis4: yAxis(ydom(495,845), 'x4'),
  legend:{x:1045/W, xanchor:'left', y:1-264/H, yanchor:'top', traceorder:'grouped', tracegroupgap:6.5,
    title:{text:'T.b Presence', font:{family:FONT, size:18.5, color:'#000'}}, font:{family:FONT, size:15, color:'#1a1a1a'},
    bgcolor:'rgba(0,0,0,0)'},
  annotations:[
    {text:'a.', x:62/W, y:1-17/H, xref:'paper', yref:'paper', xanchor:'left', yanchor:'middle', showarrow:false, font:{family:FONT, size:22, color:'#000'}},
    {text:'b.', x:580/W, y:1-17/H, xref:'paper', yref:'paper', xanchor:'left', yanchor:'middle', showarrow:false, font:{family:FONT, size:22, color:'#000'}},
    {text:'c.', x:62/W, y:1-475/H, xref:'paper', yref:'paper', xanchor:'left', yanchor:'middle', showarrow:false, font:{family:FONT, size:22, color:'#000'}},
    {text:'d.', x:580/W, y:1-475/H, xref:'paper', yref:'paper', xanchor:'left', yanchor:'middle', showarrow:false, font:{family:FONT, size:22, color:'#000'}}
  ]
};
Plotly.newPlot('chart', traces, layout, {displayModeBar:false, staticPlot:true});
</script></body></html>
